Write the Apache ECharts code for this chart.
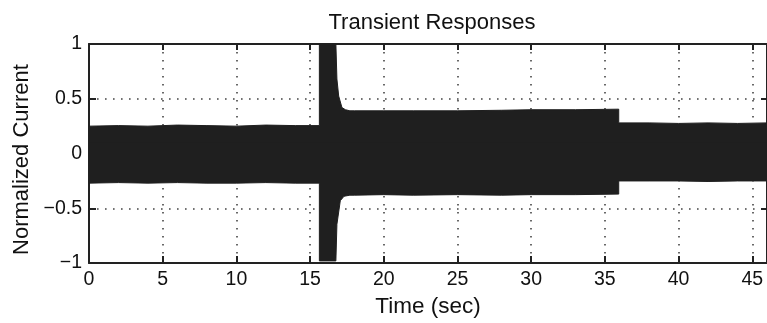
<!DOCTYPE html>
<html>
<head>
<meta charset="utf-8">
<script src="https://cdn.jsdelivr.net/npm/echarts@6/dist/echarts.min.js"></script>
<style>
html,body{margin:0;padding:0;background:#fff;}
#chart{width:767px;height:323px;}
</style>
</head>
<body>
<div id="chart"></div>
<script>
// Envelope of the dense oscillating current
var upperTime = [0, 2, 4, 6, 8, 10, 12, 14, 15.63, 15.63, 16.75, 16.82, 16.94, 17.16, 17.4, 17.7, 18, 20, 22, 25, 28, 30, 33, 35.94, 35.94, 38, 40, 42, 44, 46];
var upperVal  = [0.25, 0.255, 0.25, 0.26, 0.255, 0.25, 0.26, 0.255, 0.255, 1.0, 1.0, 0.68, 0.525, 0.42, 0.40, 0.39, 0.39, 0.39, 0.39, 0.39, 0.395, 0.40, 0.40, 0.405, 0.28, 0.28, 0.275, 0.28, 0.275, 0.28];
var lowerTime = [0, 2, 4, 6, 8, 10, 12, 14, 15.63, 15.63, 16.75, 16.82, 17.05, 17.3, 17.7, 18, 20, 22, 25, 28, 30, 33, 35.94, 35.94, 38, 40, 42, 44, 46];
var lowerVal  = [-0.27, -0.265, -0.27, -0.265, -0.27, -0.27, -0.265, -0.27, -0.27, -0.98, -0.98, -0.646, -0.43, -0.39, -0.38, -0.38, -0.375, -0.38, -0.375, -0.38, -0.375, -0.375, -0.37, -0.25, -0.25, -0.25, -0.255, -0.25, -0.25];
var xTicks = [0, 5, 10, 15, 20, 25, 30, 35, 40, 45];
var yTicks = [-1, -0.5, 0, 0.5, 1];

function pairs(t, v){ return t.map(function(x,i){ return [x, v[i]]; }); }

var chart = echarts.init(document.getElementById('chart'), null, {renderer:'canvas'});
var font = "'Liberation Sans', Arial, Helvetica, sans-serif";
var axisCol = '#222';
var bandCol = '#1f1f1f';
var textCol = '#111';
var gridLine = {show:true, lineStyle:{color:'#444', width:1.6, type:[1.6, 6.4]}};

var option = {
  animation: false,
  backgroundColor: '#fff',
  title: {
    text: 'Transient Responses',
    left: 427, textAlign: 'center', top: 7,
    textStyle: {fontFamily: font, fontSize: 22, fontWeight: 'normal', color: textCol}
  },
  grid: {left: 89, top: 44, width: 682, height: 222},
  xAxis: [{
    type: 'value', min: 0, max: 46, interval: 5,
    name: 'Time (sec)', nameLocation: 'middle', nameGap: 27,
    nameTextStyle: {fontFamily: font, fontSize: 22.5, color: textCol},
    axisLine: {show: true, onZero: false, lineStyle: {color: axisCol, width: 2}},
    axisTick: {show: true, inside: true, length: 7, lineStyle: {color: axisCol, width: 2}},
    axisLabel: {fontFamily: font, fontSize: 19.5, color: textCol, margin: 7, showMaxLabel: false,
      formatter: function(v){ return xTicks.indexOf(v) >= 0 ? String(v) : ''; }},
    splitLine: gridLine
  }, {
    type: 'value', position: 'top', min: 0, max: 46, interval: 5,
    axisLine: {show: true, onZero: false, lineStyle: {color: axisCol, width: 2}},
    axisTick: {show: true, inside: true, length: 6, lineStyle: {color: axisCol, width: 2}},
    axisLabel: {show: false},
    splitLine: {show: false}
  }],
  yAxis: [{
    type: 'value', min: -1, max: 1, interval: 0.5,
    name: 'Normalized Current', nameLocation: 'middle', nameGap: 55,
    nameTextStyle: {fontFamily: font, fontSize: 22, color: textCol, padding: [0, 12, 0, 0]},
    axisLine: {show: true, onZero: false, lineStyle: {color: axisCol, width: 2}},
    axisTick: {show: true, inside: true, length: 7, lineStyle: {color: axisCol, width: 2}},
    axisLabel: {fontFamily: font, fontSize: 19.5, color: textCol, margin: 7,
      formatter: function(v){ return yTicks.indexOf(v) >= 0 ? String(v).replace('-', '\u2212') : ''; }},
    splitLine: gridLine
  }, {
    type: 'value', position: 'right', min: -1, max: 1, interval: 0.5,
    axisLine: {show: true, onZero: false, lineStyle: {color: axisCol, width: 2}},
    axisTick: {show: true, inside: true, length: 6, lineStyle: {color: axisCol, width: 2}},
    axisLabel: {show: false},
    splitLine: {show: false}
  }],
  series: [{
    type: 'line', data: pairs(upperTime, upperVal), showSymbol: false, silent: true,
    lineStyle: {color: bandCol, width: 1}, areaStyle: {color: bandCol, opacity: 1, origin: -0.1}, z: 1
  }, {
    type: 'line', data: pairs(lowerTime, lowerVal), showSymbol: false, silent: true,
    lineStyle: {color: bandCol, width: 1}, areaStyle: {color: bandCol, opacity: 1, origin: 0.1}, z: 1
  }]
};
chart.setOption(option);
</script>
</body>
</html>
